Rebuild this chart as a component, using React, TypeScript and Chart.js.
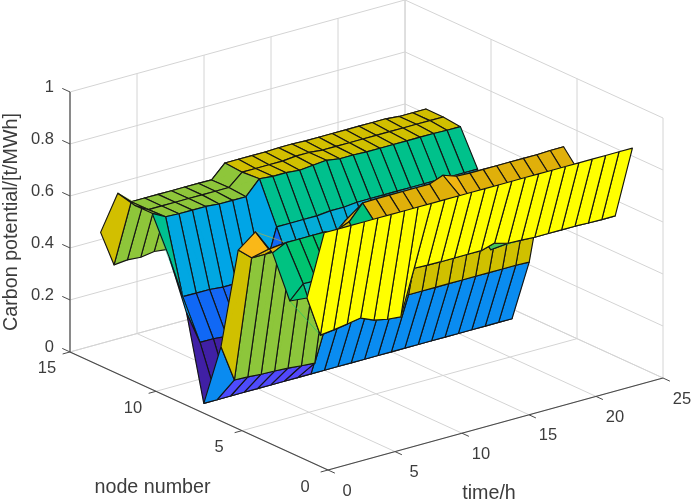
import React, { useEffect, useRef } from "react";
import { Chart, registerables } from "chart.js";

Chart.register(...registerables);

const times = [1,2,3,4,5,6,7,8,9,10,11,12,13,14,15,16,17,18,19,20,21,22,23,24];
const nodes = [1,2,3,4,5,6,7,8,9,10,11,12,13,14];

const node1 = [.868,.868,.868,.868,.868,.868,.868,.868,.868,.868,.868,.868,.868,.868,.868,.868,.868,.868,.868,.868,.868,.868,.868,.868];
const node2 = [.587,.43,.436,.444,.453,.431,.42,.415,.588,.586,.585,.585,.585,.585,.6,.585,.583,.58,.58,.58,.58,.578,.577,.577];
const node3 = [.545,.597,.595,.595,.595,.595,.595,.595,.62,.62,.62,.62,.62,.62,.62,.53,.62,.62,.62,.62,.62,.62,.62,.62];
const node4 = [.70,.725,.725,.725,.725,.70,.65,.56,.675,.675,.675,.675,.675,.675,.72,.675,.675,.675,.675,.675,.675,.675,.675,.675];
const node5 = [.75,.67,.67,.67,.67,.67,.67,.69,.748,.75,.75,.75,.75,.75,.77,.752,.75,.75,.75,.75,.75,.75,.752,.752];
const node6 = [.65,.606,.606,.605,.605,.604,.604,.604,.65,.65,.65,.65,.65,.65,.65,.65,.65,.65,.65,.65,.65,.65,.65,.65];
const node7 = [.248,.106,.104,.10,.098,.095,.09,.086,.25,.25,.25,.25,.25,.25,.25,.25,.25,.25,.25,.25,.25,.25,.25,.248];
const node8 = [0,0,0,0,0,0,0,0,0,0,0,0,0,0,0,0,0,0,0,0,0,0,0,0];
const node9 = [.317,.19,.19,.185,.18,.18,.185,.19,.35,.35,.35,.35,.35,.35,.35,.35,.35,.35,.35,.35,.35,.35,.35,.35];
const node10 = [.5,.336,.335,.335,.33,.33,.33,.33,.505,.505,.505,.505,.51,.51,.515,.515,.515,.515,.515,.515,.515,.515,.515,.515];
const node11 = [.64,.613,.61,.61,.61,.605,.605,.605,.66,.655,.655,.65,.655,.66,.652,.652,.65,.65,.65,.65,.65,.65,.648,.648];
const node12 = [.64,.61,.61,.61,.61,.61,.61,.61,.655,.655,.655,.655,.66,.66,.655,.655,.655,.655,.655,.655,.655,.655,.655,.655];
const node13 = [.657,.61,.61,.61,.61,.61,.61,.609,.66,.66,.66,.66,.662,.662,.66,.66,.66,.66,.66,.66,.66,.655,.655,.655];
const node14 = [.476,.337,.342,.338,.346,.34,.34,.34,.34,.34,.34,.34,.34,.34,.34,.34,.34,.34,.34,.34,.34,.34,.34,.34];
const surface = [node1,node2,node3,node4,node5,node6,node7,node8,node9,node10,node11,node12,node13,node14];

const timeTicks = [0,5,10,15,20,25];
const nodeTicks = [0,5,10,15];
const zTicks = [0,0.2,0.4,0.6,0.8,1];
const zTickLabels = ["0","0.2","0.4","0.6","0.8","1"];

const colorStops: [number, number[]][] = [
  [0, [64,32,165]],
  [0.09, [84,72,250]],
  [0.12, [70,80,255]],
  [0.19, [16,104,245]],
  [0.25, [10,140,240]],
  [0.33, [0,165,230]],
  [0.42, [16,198,165]],
  [0.5, [0,192,144]],
  [0.597, [0,196,112]],
  [0.603, [140,198,60]],
  [0.64, [150,198,50]],
  [0.648, [208,192,0]],
  [0.665, [212,190,0]],
  [0.675, [224,176,10]],
  [0.75, [250,184,24]],
  [0.868, [255,255,0]],
];

function colorOf(z: number) {
  for (let i = 1; i < colorStops.length; i++) {
    const [z1, c1] = colorStops[i];
    const [z0, c0] = colorStops[i - 1];
    if (z <= z1) {
      const f = (z - z0) / (z1 - z0);
      return `rgb(${c0.map((c, k) => Math.round(c + (c1[k] - c) * f)).join(",")})`;
    }
  }
  return "rgb(255,255,0)";
}

function project(t: number, n: number, z: number) {
  return {
    x: 328 + 13.4 * t - 17.2 * n,
    y: 470 - 3.68 * t - 7.87 * n - 260 * z,
  };
}

function segment(a: number[], b: number[], color: string, width: number) {
  return {
    data: [project(a[0], a[1], a[2]), project(b[0], b[1], b[2])],
    borderColor: color,
    borderWidth: width,
    showLine: true,
    pointRadius: 0,
    fill: false,
  };
}

function buildDatasets() {
  const sets: any[] = [];
  for (let i = 0; i < nodes.length - 1; i++) {
    for (let j = 0; j < times.length - 1; j++) {
      const n0 = nodes[i], n1 = nodes[i + 1], t0 = times[j], t1 = times[j + 1];
      const A = project(t0, n0, surface[i][j]);
      const B = project(t1, n0, surface[i][j + 1]);
      const C = project(t1, n1, surface[i + 1][j + 1]);
      const D = project(t0, n1, surface[i + 1][j]);
      // first in the list is painted last: edges go over their own face
      sets.push({
        data: [A, B, C, D, A],
        showLine: true,
        pointRadius: 0,
        fill: false,
        borderColor: "#141414",
        borderWidth: 1.15,
        borderJoinStyle: "round",
        tension: 0,
      });
      // a face is two triangles that share the B-D diagonal
      sets.push({
        data: [A, B, D, B, C, D, A],
        showLine: true,
        pointRadius: 0,
        fill: "shape",
        backgroundColor: colorOf(surface[i][j]),
        borderColor: colorOf(surface[i][j]),
        borderWidth: 0.3,
        tension: 0,
      });
    }
  }
  const axis = "#4a4a4a";
  const tMax = 25, nMax = 15;
  sets.push(segment([0, nMax, 0], [0, nMax, 1], axis, 1.2));
  sets.push(segment([0, 0, 0], [0, nMax, 0], axis, 1.2));
  sets.push(segment([0, 0, 0], [tMax, 0, 0], axis, 1.2));
  zTicks.forEach((z) => sets.push(segment([0, nMax, z], [0, nMax + 0.45, z], axis, 1)));
  nodeTicks.forEach((n) => sets.push(segment([0, n, 0], [-0.55, n, 0], axis, 1)));
  timeTicks.forEach((t) => sets.push(segment([t, 0, 0], [t, -0.4, 0], axis, 1)));
  const grid = "#d4d4d4";
  timeTicks.forEach((t) => {
    sets.push(segment([t, 0, 0], [t, nMax, 0], grid, 1));
    sets.push(segment([t, nMax, 0], [t, nMax, 1], grid, 1));
  });
  nodeTicks.forEach((n) => {
    sets.push(segment([0, n, 0], [tMax, n, 0], grid, 1));
    sets.push(segment([tMax, n, 0], [tMax, n, 1], grid, 1));
  });
  zTicks.forEach((z) => {
    sets.push(segment([0, nMax, z], [tMax, nMax, z], grid, 1));
    sets.push(segment([tMax, nMax, z], [tMax, 0, z], grid, 1));
  });
  return sets;
}

const labelsPlugin = {
  id: "axisText",
  afterDraw(chart: any) {
    const { ctx, scales } = chart;
    const put = (text: string, p: { x: number; y: number }, dx: number, dy: number, align: CanvasTextAlign) => {
      ctx.textAlign = align;
      ctx.fillText(text, scales.x.getPixelForValue(p.x) + dx, scales.y.getPixelForValue(p.y) + dy);
    };
    ctx.save();
    ctx.fillStyle = "#3c3c3c";
    ctx.textBaseline = "middle";
    ctx.font = '16.5px "Liberation Sans", Arial, sans-serif';
    zTicks.forEach((z, i) => put(zTickLabels[i], project(0, 15, z), -16, -4, "right"));
    nodeTicks.forEach((n) => put(String(n), project(0, n, 0), -23, 17, "center"));
    timeTicks.forEach((t) => put(String(t), project(t, 0, 0), 19, 21, "center"));
    ctx.font = '19.7px "Liberation Sans", Arial, sans-serif';
    ctx.textAlign = "center";
    ctx.fillText("node number", scales.x.getPixelForValue(152.5), scales.y.getPixelForValue(487.5));
    ctx.fillText("time/h", scales.x.getPixelForValue(489), scales.y.getPixelForValue(494));
    ctx.translate(scales.x.getPixelForValue(12), scales.y.getPixelForValue(222));
    ctx.rotate(-Math.PI / 2);
    ctx.fillText("Carbon potential/[t/MWh]", 0, 0);
    ctx.restore();
  },
};

export default function App() {
  const ref = useRef<HTMLCanvasElement>(null);
  useEffect(() => {
    const chart = new Chart(ref.current as HTMLCanvasElement, {
      type: "scatter",
      data: { datasets: buildDatasets() },
      options: {
        animation: false,
        responsive: false,
        devicePixelRatio: 1,
        events: [],
        layout: { padding: 0 },
        plugins: { legend: { display: false }, tooltip: { enabled: false } },
        scales: {
          x: { type: "linear", min: 0, max: 699, display: false },
          y: { type: "linear", min: 0, max: 504, reverse: true, display: false },
        },
      },
      plugins: [labelsPlugin],
    } as any);
    return () => chart.destroy();
  }, []);
  return (
    <div style={{ position: "absolute", left: 0, top: 0, width: 699, height: 504, background: "#fff", overflow: "hidden" }}>
      <canvas ref={ref} width={699} height={504} style={{ display: "block", filter: "blur(0.45px)" }} />
    </div>
  );
}
